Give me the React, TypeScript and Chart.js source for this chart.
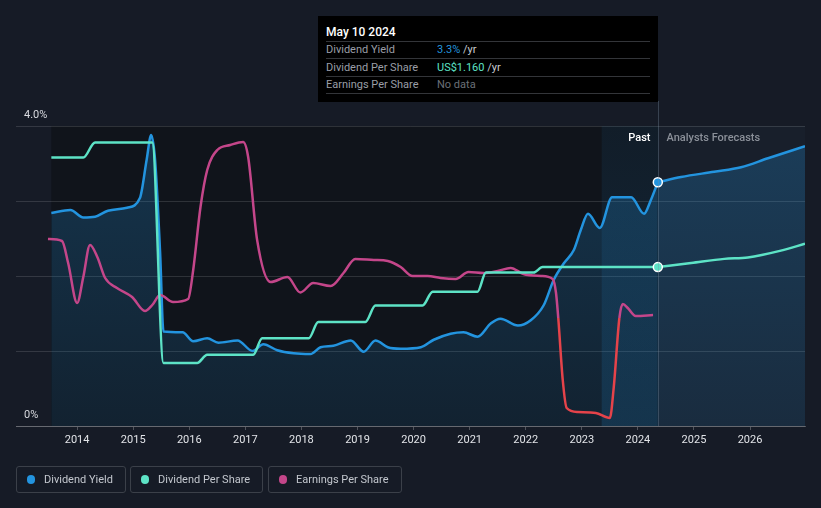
import React, { useEffect, useRef } from 'react';
import { Chart, registerables } from 'chart.js';

Chart.register(...registerables);

const FONT = 'Roboto, "Noto Sans", "DejaVu Sans", sans-serif';

// ---- data (years as decimal) ----
const xTickYears = [2014, 2015, 2016, 2017, 2018, 2019, 2020, 2021, 2022, 2023, 2024, 2025, 2026];
const PAST_START = 2013.54;
const BAND_START = 2023.355;
const TODAY = 2024.355;

const yieldPastX = [2013.54, 2013.88, 2014.11, 2014.32, 2014.55, 2014.89, 2015.12, 2015.24, 2015.32, 2015.39, 2015.48, 2015.54, 2015.88, 2016.07, 2016.32, 2016.52, 2016.86, 2017.13, 2017.32, 2017.57, 2017.86, 2018.16, 2018.34, 2018.57, 2018.88, 2019.11, 2019.32, 2019.54, 2019.77, 2020.13, 2020.36, 2020.66, 2020.89, 2021.14, 2021.38, 2021.55, 2021.86, 2022.09, 2022.32, 2022.5, 2022.68, 2022.86, 2022.98, 2023.11, 2023.32, 2023.54, 2023.88, 2024.11, 2024.23, 2024.355];
const yieldPastY = [2.84, 2.88, 2.78, 2.79, 2.87, 2.91, 3.04, 3.55, 3.88, 3.55, 2.31, 1.26, 1.25, 1.13, 1.17, 1.11, 1.14, 1.0, 1.09, 1.01, 0.97, 0.96, 1.05, 1.07, 1.14, 0.99, 1.14, 1.05, 1.03, 1.05, 1.15, 1.23, 1.25, 1.19, 1.37, 1.43, 1.34, 1.41, 1.61, 1.95, 2.17, 2.35, 2.61, 2.83, 2.64, 3.05, 3.05, 2.83, 3.01, 3.25];
const yieldFcX = [2024.355, 2024.77, 2025.36, 2025.84, 2026.32, 2026.98];
const yieldFcY = [3.25, 3.32, 3.39, 3.45, 3.57, 3.73];

const dpsPastX = [2013.54, 2014.11, 2014.32, 2015.34, 2015.54, 2016.14, 2016.32, 2017.14, 2017.3, 2018.13, 2018.3, 2019.14, 2019.32, 2020.16, 2020.34, 2021.14, 2021.29, 2022.14, 2022.3, 2024.355];
const dpsPastY = [1.96, 1.96, 2.07, 2.07, 0.46, 0.46, 0.52, 0.52, 0.64, 0.64, 0.76, 0.76, 0.88, 0.88, 0.98, 0.98, 1.12, 1.12, 1.16, 1.16];
const dpsFcX = [2024.355, 2024.95, 2025.54, 2025.96, 2026.55, 2026.98];
const dpsFcY = [1.16, 1.19, 1.22, 1.23, 1.28, 1.33];

const epsX = [2013.48, 2013.73, 2013.84, 2014.0, 2014.11, 2014.23, 2014.36, 2014.5, 2014.71, 2014.98, 2015.21, 2015.34, 2015.48, 2015.71, 2015.98, 2016.07, 2016.2, 2016.32, 2016.5, 2016.73, 2016.96, 2017.05, 2017.21, 2017.45, 2017.75, 2017.98, 2018.21, 2018.52, 2018.75, 2018.96, 2019.29, 2019.54, 2019.77, 2019.98, 2020.25, 2020.48, 2020.75, 2020.98, 2021.25, 2021.5, 2021.73, 2021.96, 2022.27, 2022.48, 2022.54, 2022.58, 2022.66, 2022.73, 2022.93, 2023.25, 2023.5, 2023.57, 2023.67, 2023.73, 2023.82, 2023.96, 2024.27];
const epsY = [0.79, 0.77, 0.55, 0.15, 0.41, 0.73, 0.61, 0.4, 0.3, 0.21, 0.07, 0.13, 0.23, 0.16, 0.19, 0.48, 1.11, 1.48, 1.68, 1.73, 1.76, 1.61, 0.78, 0.36, 0.41, 0.255, 0.35, 0.32, 0.45, 0.59, 0.58, 0.57, 0.51, 0.42, 0.42, 0.4, 0.39, 0.46, 0.45, 0.47, 0.5, 0.44, 0.42, 0.39, 0.25, 0.0, -0.62, -0.9, -0.94, -0.95, -1.0, -0.69, 0.0, 0.14, 0.1, 0.02, 0.03];

const BLUE = '#2394df';
const TEAL = '#5de3c6';
const PINK = '#c4468a';
const RED = '#e5434a';

const pts = (xs: number[], ys: number[]) => xs.map((x, i) => ({ x, y: ys[i] }));

const yieldFill = (c: any) => {
  const { chart } = c;
  const a = chart.chartArea;
  if (!a) return 'rgba(35,148,223,0.18)';
  const g = chart.ctx.createLinearGradient(0, a.top, 0, a.bottom);
  g.addColorStop(0, 'rgba(35,148,223,0.26)');
  g.addColorStop(1, 'rgba(35,148,223,0.11)');
  return g;
};

const regionsPlugin = {
  id: 'regions',
  beforeDraw(chart: any) {
    const { ctx, chartArea: a, scales } = chart;
    const x = scales.x;
    const xs = x.getPixelForValue(PAST_START);
    const xt = x.getPixelForValue(TODAY);
    ctx.save();
    ctx.fillStyle = '#10141b';
    ctx.fillRect(xs, a.top, xt - xs, a.bottom - a.top);
    ctx.fillStyle = '#181f2b';
    ctx.fillRect(xt, a.top, a.right - xt, a.bottom - a.top);
    ctx.restore();
  },
  beforeDatasetsDraw(chart: any) {
    const { ctx, chartArea: a, scales } = chart;
    const x = scales.x;
    const xb = x.getPixelForValue(BAND_START);
    const xt = x.getPixelForValue(TODAY);
    ctx.save();
    const g = ctx.createLinearGradient(0, a.top, 0, a.bottom);
    g.addColorStop(0, 'rgba(35,148,223,0.07)');
    g.addColorStop(1, 'rgba(35,148,223,0.16)');
    ctx.fillStyle = g;
    ctx.fillRect(xb, a.top, xt - xb, a.bottom - a.top);
    ctx.restore();
  },
  afterDatasetsDraw(chart: any) {
    const { ctx, chartArea: a, scales } = chart;
    const xt = Math.round(scales.x.getPixelForValue(TODAY)) + 0.5;
    ctx.save();
    ctx.strokeStyle = 'rgba(120,140,160,0.35)';
    ctx.lineWidth = 1;
    ctx.beginPath();
    ctx.moveTo(xt, 101);
    ctx.lineTo(xt, a.bottom);
    ctx.stroke();
    ctx.font = '500 11px ' + FONT;
    ctx.textBaseline = 'middle';
    ctx.textAlign = 'right';
    ctx.fillStyle = '#ffffff';
    ctx.fillText('Past', xt - 8, a.top + 12);
    ctx.textAlign = 'left';
    ctx.fillStyle = '#8b9099';
    ctx.fillText('Analysts Forecasts', xt + 8, a.top + 12);
    ctx.restore();
  },
};

function ChartCanvas() {
  const ref = useRef<HTMLCanvasElement | null>(null);
  useEffect(() => {
    if (!ref.current) return;
    Chart.defaults.font.family = FONT;
    const lineBase = {
      type: 'line' as const,
      pointRadius: 0,
      borderWidth: 2.5,
      cubicInterpolationMode: 'monotone' as const,
    };
    const chart = new Chart(ref.current, {
      type: 'line',
      data: {
        datasets: [
          {
            ...lineBase,
            data: pts([TODAY], [yieldPastY[yieldPastY.length - 1]]),
            yAxisID: 'y',
            showLine: false,
            pointRadius: 4.5,
            pointBackgroundColor: BLUE,
            pointBorderColor: '#ffffff',
            pointBorderWidth: 1.5,
          },
          {
            ...lineBase,
            data: pts([TODAY], [dpsPastY[dpsPastY.length - 1]]),
            yAxisID: 'y1',
            showLine: false,
            pointRadius: 4.5,
            pointBackgroundColor: TEAL,
            pointBorderColor: '#ffffff',
            pointBorderWidth: 1.5,
          },
          { ...lineBase, label: 'Dividend Per Share', data: pts(dpsPastX, dpsPastY), yAxisID: 'y1', borderColor: TEAL },
          { ...lineBase, data: pts(dpsFcX, dpsFcY), yAxisID: 'y1', borderColor: TEAL },
          {
            ...lineBase,
            label: 'Earnings Per Share',
            data: pts(epsX, epsY),
            yAxisID: 'y2',
            borderColor: PINK,
            segment: {
              borderColor: (c: any) => (c.p0.parsed.y <= 0 && c.p1.parsed.y <= 0 ? RED : undefined),
            },
          },
          {
            ...lineBase,
            label: 'Dividend Yield',
            data: pts(yieldPastX, yieldPastY),
            yAxisID: 'y',
            borderColor: BLUE,
            fill: 'origin',
            backgroundColor: yieldFill,
          },
          {
            ...lineBase,
            data: pts(yieldFcX, yieldFcY),
            yAxisID: 'y',
            borderColor: BLUE,
            fill: 'origin',
            backgroundColor: yieldFill,
          },
        ],
      },
      options: {
        responsive: false,
        animation: false,
        events: [],
        parsing: true,
        layout: { padding: { top: 126, left: 16, right: 16, bottom: 0 } },
        plugins: { legend: { display: false }, tooltip: { enabled: false } },
        scales: {
          x: {
            type: 'linear',
            min: 2012.91,
            max: 2026.98,
            afterBuildTicks: (axis: any) => {
              axis.ticks = xTickYears.map((v) => ({ value: v }));
            },
            afterFit: (s: any) => {
              s.height = 82;
            },
            grid: { display: true, drawOnChartArea: false, drawTicks: true, tickLength: 4, color: 'rgba(255,255,255,0.25)' },
            border: { display: true, color: 'rgba(255,255,255,0.25)' },
            ticks: {
              autoSkip: false,
              maxRotation: 0,
              padding: 4,
              color: '#e2e4e8',
              font: { size: 11 },
              callback: (v: any) => String(v),
            },
          },
          y: {
            type: 'linear',
            position: 'left',
            min: 0,
            max: 4,
            afterFit: (s: any) => {
              s.width = 0;
            },
            grid: { color: 'rgba(255,255,255,0.13)', drawTicks: false },
            border: { display: false },
            ticks: {
              stepSize: 1,
              mirror: true,
              padding: 8,
              labelOffset: -11,
              color: '#d8dadf',
              font: { size: 11 },
              callback: (v: any) => (v === 4 ? '4.0%' : v === 0 ? '0%' : ''),
            },
          },
          y1: { type: 'linear', display: false, min: 0, max: 2.19 },
          y2: { type: 'linear', display: false, min: -1.08, max: 1.92 },
        },
      } as any,
      plugins: [regionsPlugin],
    } as any);
    return () => chart.destroy();
  }, []);
  return <canvas ref={ref} width={821} height={508} style={{ position: 'absolute', left: 0, top: 0, width: 821, height: 508 }} />;
}

const legendItems = [
  { label: 'Dividend Yield', color: BLUE, left: 16, width: 110 },
  { label: 'Dividend Per Share', color: TEAL, left: 130, width: 133 },
  { label: 'Earnings Per Share', color: PINK, left: 268, width: 134 },
];

const tooltipRows = [
  { label: 'Dividend Yield', value: '3.3%', unit: ' /yr', color: BLUE },
  { label: 'Dividend Per Share', value: 'US$1.160', unit: ' /yr', color: TEAL },
  { label: 'Earnings Per Share', value: 'No data', unit: '', color: '#6b7078' },
];

export default function App() {
  return (
    <div style={{ position: 'fixed', left: 0, top: 0, width: 821, height: 508, background: '#161b26', overflow: 'hidden', fontFamily: FONT }}>
      <ChartCanvas />
      <div style={{ position: 'absolute', left: 318, top: 16, width: 340, height: 86, background: '#000000' }}>
        <div style={{ position: 'absolute', left: 8, top: 9, color: '#ffffff', fontSize: 12, fontWeight: 500, lineHeight: '14px' }}>May 10 2024</div>
        {[25, 42, 60, 77].map((t) => (
          <div key={t} style={{ position: 'absolute', left: 8, right: 8, top: t, height: 1, background: '#333539' }} />
        ))}
        {tooltipRows.map((r, i) => (
          <div key={r.label} style={{ position: 'absolute', left: 8, top: 27 + i * 17.5, height: 14, lineHeight: '14px', fontSize: 11, whiteSpace: 'nowrap' }}>
            <span style={{ position: 'absolute', left: 0, color: '#9a9ea6' }}>{r.label}</span>
            <span style={{ position: 'absolute', left: 111 }}>
              <span style={{ color: r.color }}>{r.value}</span>
              <span style={{ color: '#c9ccd1' }}>{r.unit}</span>
            </span>
          </div>
        ))}
      </div>
      {legendItems.map((it) => (
        <div
          key={it.label}
          style={{
            position: 'absolute',
            left: it.left,
            top: 466,
            width: it.width,
            height: 27,
            boxSizing: 'border-box',
            border: '1px solid #3b4049',
            borderRadius: 3,
            display: 'flex',
            alignItems: 'center',
            paddingLeft: 10,
            fontSize: 11,
            color: '#c3c7ce',
            whiteSpace: 'nowrap',
          }}
        >
          <span style={{ display: 'inline-block', width: 8, height: 9, borderRadius: 5, background: it.color, marginRight: 9 }} />
          <span>{it.label}</span>
        </div>
      ))}
    </div>
  );
}
